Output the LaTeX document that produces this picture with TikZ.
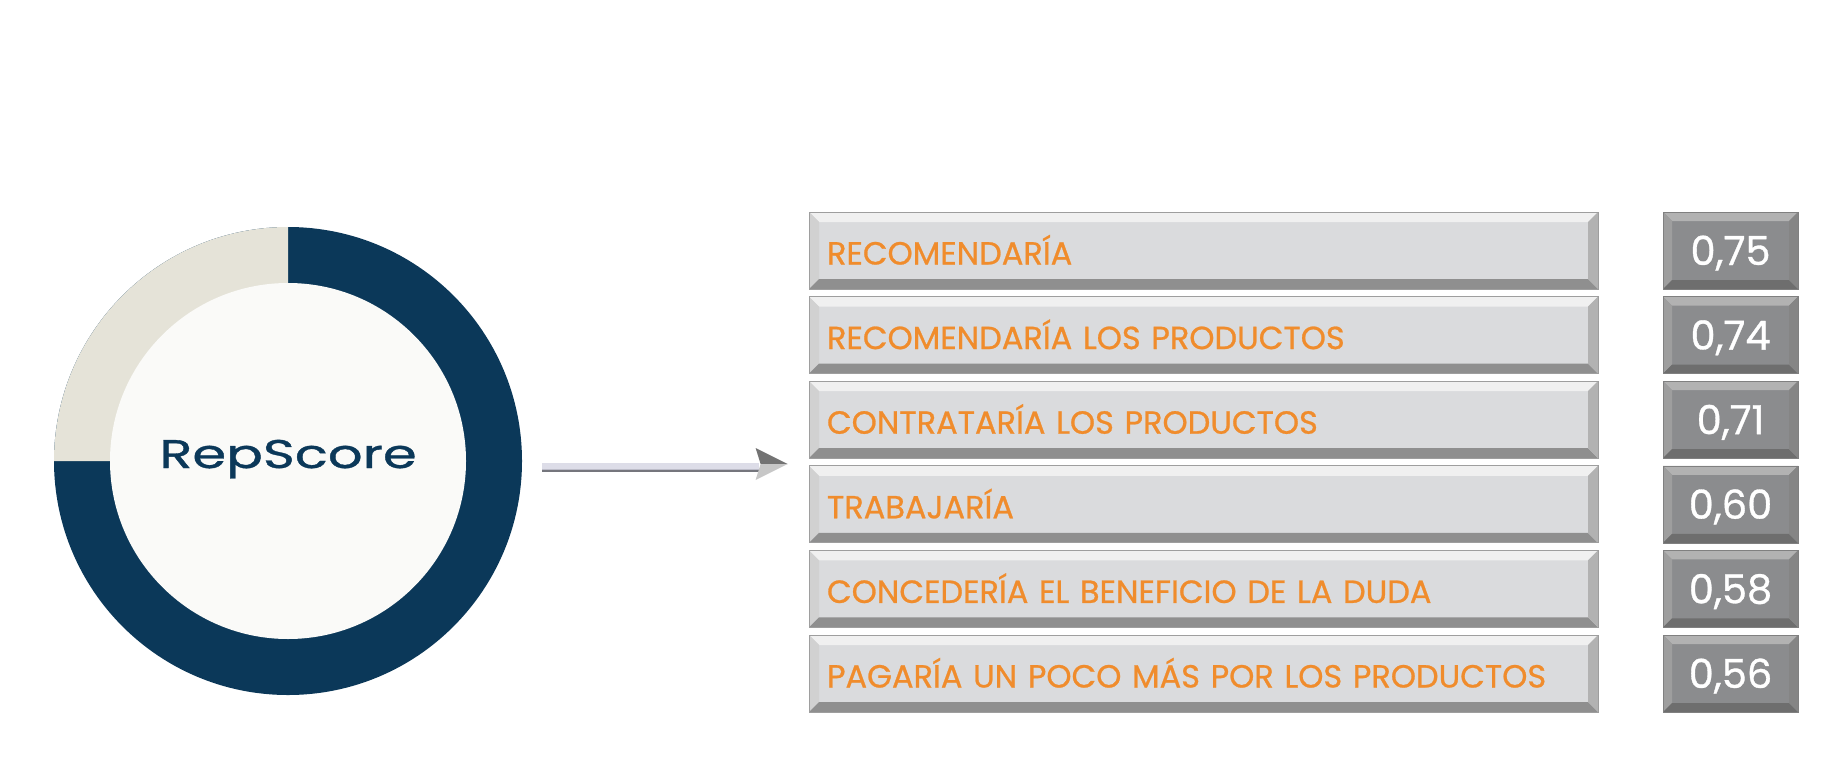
\documentclass[tikz,border=0pt]{standalone}
\usepackage{fontspec}
\newfontfamily\pop{Poppins}[FakeBold=0.8]
\newfontfamily\popr{Poppins}[FakeBold=0.8]
\usetikzlibrary{calc}
\definecolor{navy}{HTML}{0B3859}
\definecolor{beige}{HTML}{E5E3D8}
\definecolor{inner}{HTML}{FAFAF8}
\definecolor{orng}{HTML}{F08C2C}
\definecolor{facel}{HTML}{DADBDD}
\definecolor{facev}{HTML}{8B8C8E}
\definecolor{shaftdark}{HTML}{75767D}
\definecolor{shaftlight}{HTML}{BDBDC9}
\definecolor{shafthi}{HTML}{DDDDE8}
\newcommand\ppb[1]{path picture bounding box.#1}
\newcommand\bevel[5]{%
  \fill[#2] (\ppb{north west}) -- (\ppb{north east}) -- ([shift={(-#1,#1)}]\ppb{north east}) -- ([shift={(#1,#1)}]\ppb{north west}) -- cycle;
  \fill[#3] (\ppb{north west}) -- (\ppb{south west}) -- ([shift={(#1,-#1)}]\ppb{south west}) -- ([shift={(#1,#1)}]\ppb{north west}) -- cycle;
  \fill[#4] (\ppb{south west}) -- (\ppb{south east}) -- ([shift={(-#1,-#1)}]\ppb{south east}) -- ([shift={(#1,-#1)}]\ppb{south west}) -- cycle;
  \fill[#5] (\ppb{north east}) -- (\ppb{south east}) -- ([shift={(-#1,-#1)}]\ppb{south east}) -- ([shift={(-#1,#1)}]\ppb{north east}) -- cycle;}
\tikzset{
  barbox/.style={rectangle, minimum width=789pt, minimum height=77pt, inner xsep=18pt, inner ysep=0pt,
    text width=753pt, align=left, fill=facel, draw=black!38, line width=0.8pt,
    font=\pop\fontsize{32}{32}\selectfont, text=orng, text height=28pt, text depth=0pt,
    path picture={\bevel{10}{white!94!black}{black!18}{black!44}{black!30}}},
  valbox/.style={rectangle, minimum width=135pt, minimum height=77pt, inner sep=0pt,
    fill=facev, draw=black!50, line width=0.6pt,
    font=\pop\fontsize{40}{40}\selectfont, text=white, text height=29pt, text depth=0pt,
    path picture={\bevel{9}{black!30}{black!38}{black!57}{black!48}}},
}
\begin{document}
\begin{tikzpicture}[x=1pt,y=-1pt]
\useasboundingbox[fill=white] (0,0) rectangle (1843,768);
% ring
\node[circle, minimum size=468pt, inner sep=0pt, fill=navy] (ring) at (288,461) {};
\fill[beige] (ring.center) -- ++(180:234) arc[start angle=180, end angle=270, radius=234] -- cycle;
\node[circle, minimum size=356pt, inner sep=0pt, fill=inner, text=navy,
  font=\popr\fontsize{40}{40}\selectfont, text height=14pt, text depth=0pt] (core) at (ring.center)
  {\scalebox{1.36}[1]{RepScore}};
% rows
\foreach \i/\t/\v in {1/RECOMENDARÍA/{0,75}, 2/RECOMENDARÍA LOS PRODUCTOS/{0,74}, 3/CONTRATARÍA LOS PRODUCTOS/{0,71},
  4/TRABAJARÍA/{0,60}, 5/CONCEDERÍA EL BENEFICIO DE LA DUDA/{0,58}, 6/PAGARÍA UN POCO MÁS POR LOS PRODUCTOS/{0,56}}{
  \node[barbox] (r\i) at (1203.5, {250.5+84.6*(\i-1)}) {\t};
  \node[valbox] (v\i) at (1730.5, {250.5+84.6*(\i-1)}) {\v};
}
% arrow
\coordinate (astart) at ([shift={(20,5)}]ring.east);
\coordinate (aend) at ($($(r3.south west)!.5!(r4.north west)$)+(-21,2)$);
\fill[shaftdark] ([yshift=-6]astart) rectangle ([shift={(-29,1.5)}]aend);
\fill[shaftlight] ([yshift=1.5]astart) rectangle ([shift={(-29,6)}]aend);
\fill[shafthi] ([yshift=3]astart) rectangle ([shift={(-29,4.5)}]aend);
\fill[black!55] (aend) -- ([shift={(-32,-16)}]aend) -- ([shift={(-27,0)}]aend) -- cycle;
\fill[black!22] (aend) -- ([shift={(-27,0)}]aend) -- ([shift={(-32,16)}]aend) -- cycle;
\end{tikzpicture}
\end{document}
